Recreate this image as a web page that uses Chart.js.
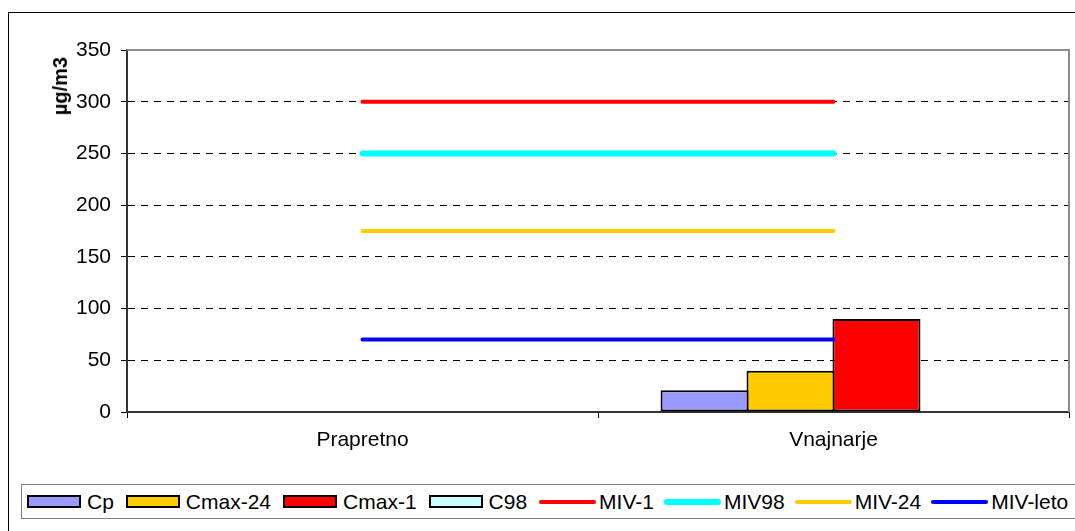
<!DOCTYPE html>
<html><head><meta charset="utf-8">
<script src="https://cdn.jsdelivr.net/npm/chart.js@4"></script>
<style>
html,body{margin:0;padding:0;background:#fff;overflow:hidden;}
body{width:1075px;height:531px;position:relative;font-family:"Liberation Sans",Arial,sans-serif;}
#frame{position:absolute;left:8px;top:12px;width:1200px;height:700px;border:1px solid #000;}
#wrap{position:absolute;left:0;top:0;width:1075px;height:470px;}
#ytitle{position:absolute;left:48px;top:57px;width:24px;line-height:24px;font-size:20px;font-weight:bold;writing-mode:vertical-rl;transform:rotate(180deg);white-space:nowrap;color:#000;}
#legend{position:absolute;left:21px;top:484px;width:1200px;height:35px;border:1px solid #808080;box-sizing:border-box;display:flex;align-items:center;padding-left:5px;font-size:21px;white-space:nowrap;color:#000;}
.item{display:flex;align-items:center;}
.item.bar{margin-right:12px;}
.item.ln{margin-right:10px;}
.box{width:50px;height:9px;border:2px solid #000;margin-right:6px;}
.line{width:57px;margin-right:3px;}
</style>
</head><body>
<div id="frame"></div>
<div id="wrap"><canvas id="c"></canvas></div>
<div id="ytitle"></div>
<div id="legend"></div>
<script>
const categories = ['Prapretno', 'Vnajnarje'];

const barNames = ['Cp', 'Cmax-24', 'Cmax-1', 'C98'];
const cpValues = [null, 21];
const cmax24Values = [null, 40];
const cmax1Values = [null, 90];
const c98Values = [null, null];

const lineNames = ['MIV-1', 'MIV98', 'MIV-24', 'MIV-leto'];
const miv1Values = [300, 300];
const miv98Values = [250, 250];
const miv24Values = [175, 175];
const mivLetoValues = [70, 70];

const yMin = 0, yMax = 350, yStep = 50;
const yTitle = 'µg/m3';

const barColors = ['#9999FF', '#FFCC00', '#FF0000', '#CCFFFF'];
const lineColors = ['#FF0000', '#00FFFF', '#FFCC00', '#0000FF'];
const lineWidths = [4, 6, 4, 4];

const barData = [cpValues, cmax24Values, cmax1Values, c98Values];
const lineData = [miv1Values, miv98Values, miv24Values, mivLetoValues];

const datasets = [];
barNames.forEach((n, i) => datasets.push({
  type: 'bar', label: n, data: barData[i],
  backgroundColor: barColors[i], borderColor: '#000', borderWidth: 2, borderSkipped: false,
  barPercentage: 1.024, categoryPercentage: 0.73, order: 1
}));
lineNames.forEach((n, i) => datasets.push({
  type: 'line', label: n, data: lineData[i],
  borderColor: lineColors[i], backgroundColor: lineColors[i], borderWidth: lineWidths[i],
  borderCapStyle: 'round', pointRadius: 0, pointHoverRadius: 0, fill: false, order: 0
}));

const plotBorder = {
  id: 'plotBorder',
  beforeDatasetsDraw(chart) {
    const a = chart.chartArea, ctx = chart.ctx;
    ctx.save();
    ctx.strokeStyle = '#8c8c8c';
    ctx.lineWidth = 2;
    ctx.beginPath();
    ctx.moveTo(a.left, a.top);
    ctx.lineTo(a.right, a.top);
    ctx.lineTo(a.right, a.bottom);
    ctx.stroke();
    ctx.restore();
  }
};

Chart.defaults.font.family = '"Liberation Sans", Arial, sans-serif';
Chart.defaults.font.size = 21;
Chart.defaults.color = '#000';

new Chart(document.getElementById('c'), {
  type: 'bar',
  data: { labels: categories, datasets },
  options: {
    responsive: true, maintainAspectRatio: false, animation: false,
    layout: { padding: { left: 8, top: 50, right: 6, bottom: 0 } },
    plugins: { legend: { display: false }, tooltip: { enabled: false } },
    scales: {
      x: {
        offset: true,
        grid: { offset: true, drawOnChartArea: false, drawTicks: true, tickLength: 6, tickColor: '#000', tickWidth: 1 },
        border: { color: '#333', width: 2 },
        ticks: { padding: 10, color: '#000', maxRotation: 0 },
        afterFit(s) { s.height = 58; }
      },
      y: {
        min: yMin, max: yMax,
        ticks: { stepSize: yStep, padding: 10, color: '#000' },
        grid: {
          color: (c) => (c.tick && (c.tick.value === yMin || c.tick.value === yMax)) ? 'rgba(0,0,0,0)' : '#000',
          lineWidth: 1, tickLength: 6, tickColor: '#000', tickWidth: 1, tickBorderDash: []
        },
        border: { color: '#333', width: 2, dash: [7, 6] },
        afterFit(s) { s.width = 119; }
      }
    }
  },
  plugins: [plotBorder]
});

document.getElementById('ytitle').textContent = yTitle;

const legend = document.getElementById('legend');
datasets.forEach(d => {
  const item = document.createElement('div');
  item.className = 'item ' + (d.type === 'bar' ? 'bar' : 'ln');
  const sym = document.createElement('div');
  if (d.type === 'bar') {
    sym.className = 'box';
    sym.style.background = d.backgroundColor;
  } else {
    sym.className = 'line';
    sym.style.height = d.borderWidth + 'px';
    sym.style.borderRadius = d.borderWidth + 'px';
    sym.style.background = d.borderColor;
  }
  const txt = document.createElement('span');
  txt.textContent = d.label;
  item.appendChild(sym);
  item.appendChild(txt);
  legend.appendChild(item);
});
</script>
</body></html>
